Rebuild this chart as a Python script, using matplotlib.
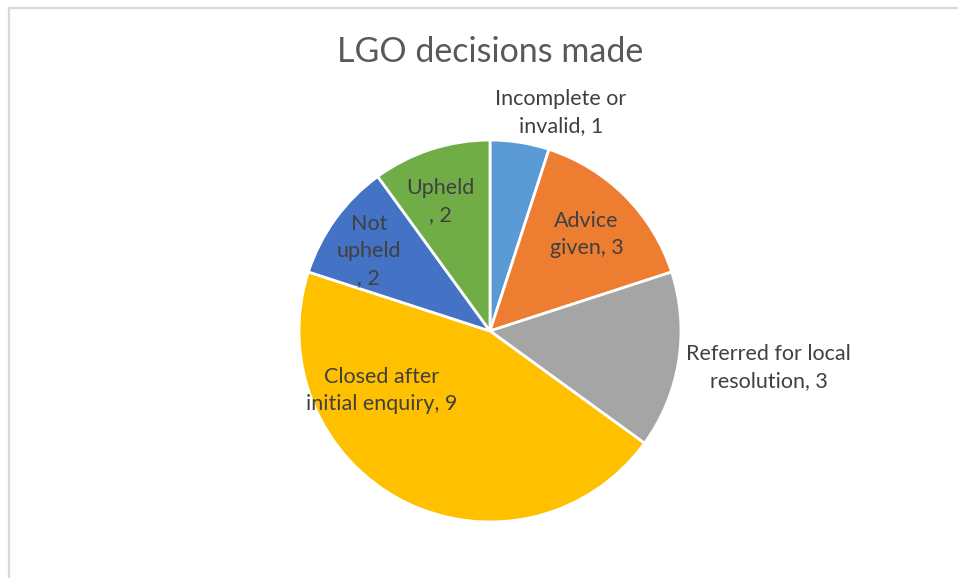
import matplotlib
matplotlib.use("Agg")
import matplotlib.pyplot as plt
from matplotlib.lines import Line2D

categories = ["Incomplete or\ninvalid", "Advice\ngiven", "Referred for local\nresolution",
              "Closed after\ninitial enquiry", "Not\nupheld\n", "Upheld\n"]
values = [1, 3, 3, 9, 2, 2]
colors = ["#5B9BD5", "#ED7D31", "#A5A5A5", "#FFC000", "#4472C4", "#70AD47"]
# label positions in pie-radius units (layout)
label_pos = [(0.37, 1.146), (0.505, 0.505), (1.458, -0.19),
             (-0.568, -0.31), (-0.635, 0.42), (-0.26, 0.677)]

W, H = 958, 578
cx, cy, R = 490, 331, 191

fig = plt.figure(figsize=(W / 100, H / 100), dpi=100)
fig.patch.set_facecolor("white")
ax = fig.add_axes([0, 0, 1, 1])
ax.axis("off")

ax.pie(values, colors=colors, startangle=90, counterclock=False, radius=1,
       wedgeprops=dict(edgecolor="white", linewidth=2))
ax.set_xlim(-cx / R, (W - cx) / R)
ax.set_ylim(-(H - cy) / R, cy / R)
ax.set_aspect("auto")

font = ["Lato", "DejaVu Sans"]
for cat, v, (x, y) in zip(categories, values, label_pos):
    ax.text(x, y, f"{cat}, {v}", ha="center", va="center", fontsize=15.5,
            color="#404040", family=font, linespacing=1.45)

fig.text(490 / W, 1 - 52 / H, "LGO decisions made", ha="center", va="center",
         fontsize=24.5, color="#595959", family=font)

fig.add_artist(Line2D([9 / W, 1], [1 - 8 / H, 1 - 8 / H], color="#d9d9d9", lw=1.6,
                      transform=fig.transFigure))
fig.add_artist(Line2D([9 / W, 9 / W], [0, 1 - 8 / H], color="#d9d9d9", lw=1.6,
                      transform=fig.transFigure))

fig.savefig("out.png", dpi=100, facecolor="white")
